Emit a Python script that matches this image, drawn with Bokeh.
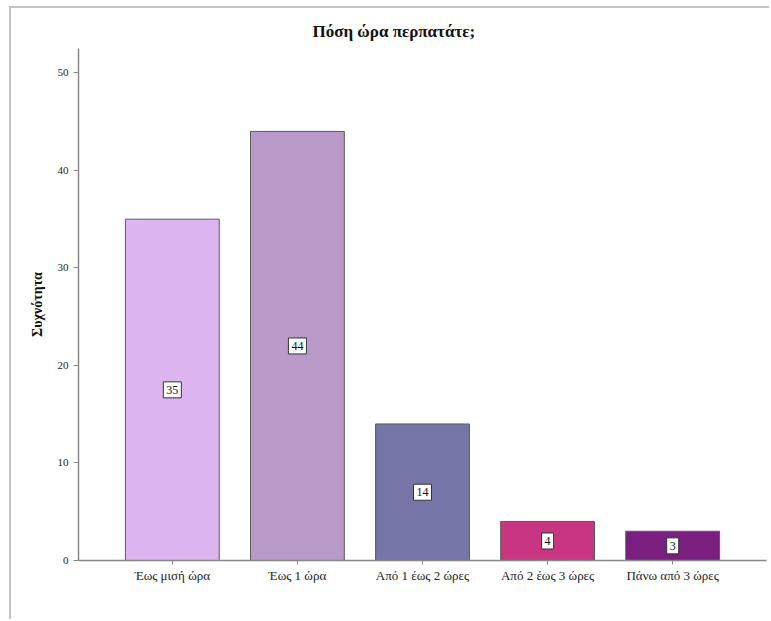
from bokeh.plotting import figure
from bokeh.models import ColumnDataSource, FactorRange, Range1d
from bokeh.core.properties import value
from bokeh.embed import file_html
from bokeh.resources import INLINE

categories = ["Έως μισή ώρα", "Έως 1 ώρα", "Από 1 έως 2 ώρες", "Από 2 έως 3 ώρες", "Πάνω από 3 ώρες"]
counts = [35, 44, 14, 4, 3]
colors = ["#dcb4f0", "#b899c8", "#7575a8", "#c83682", "#7a1f80"]
y_ticks = [0, 10, 20, 30, 40, 50]

labels_txt = [str(c) for c in counts]
src = ColumnDataSource(dict(cat=categories, n=counts, half=[c / 2 for c in counts],
                            lab=labels_txt, color=colors,
                            bw=[6 * len(t) + 6 for t in labels_txt]))

p = figure(width=760, height=613, output_backend="svg", toolbar_location=None,
           x_range=FactorRange(factors=categories, range_padding=0.1, range_padding_units="percent"),
           y_range=Range1d(0, 52.5),
           min_border_left=67, min_border_top=40, min_border_right=5, min_border_bottom=61)
p.margin = (6, 0, 0, 9)
p.styles = {"border-left": "2px solid #c4c4c4", "border-top": "2px solid #c4c4c4"}

p.vbar(x="cat", top="n", width=0.75, source=src, fill_color="color",
       line_color="#5a5a5a", line_width=1)

# value labels: white boxes with dark border
p.rect(x="cat", y="half", width="bw", height=16, width_units="screen", height_units="screen",
       source=src, fill_color="white", line_color="#333333", line_width=1)
p.text(x="cat", y="half", text="lab", source=src, text_align="center", text_baseline="middle",
       text_font=value("Liberation Serif"), text_font_size=value("12px"), text_color="#111111")

p.title.text = "Πόση ώρα περπατάτε;"
p.title.align = "left"
p.title.offset = 234
p.title.standoff = 16
p.title.text_font = "Liberation Serif"
p.title.text_font_size = "17px"
p.title.text_font_style = "bold"
p.title.text_color = "#111111"

p.grid.visible = False
p.outline_line_color = None

p.yaxis.ticker = y_ticks
p.yaxis.axis_label = "Συχνότητα"
p.yaxis.axis_label_text_font = "Liberation Serif"
p.yaxis.axis_label_text_font_size = "14px"
p.yaxis.axis_label_text_font_style = "bold"
p.yaxis.axis_label_text_color = "#111111"
p.yaxis.axis_label_standoff = 10
p.yaxis.minor_tick_line_color = None

for ax in (p.xaxis[0], p.yaxis[0]):
    ax.axis_line_color = "#888888"
    ax.axis_line_width = 1.5
    ax.major_tick_line_color = "#888888"
    ax.major_tick_out = 5
    ax.major_tick_in = 0
    ax.major_label_text_font = "Liberation Serif"
    ax.major_label_text_color = "#222222"

p.yaxis.major_label_text_font_size = "11px"
p.xaxis.major_label_text_font_size = "13px"
p.xaxis.major_tick_out = 4
p.xaxis.major_label_standoff = 3

open("out.html", "w").write(file_html(p, INLINE))
